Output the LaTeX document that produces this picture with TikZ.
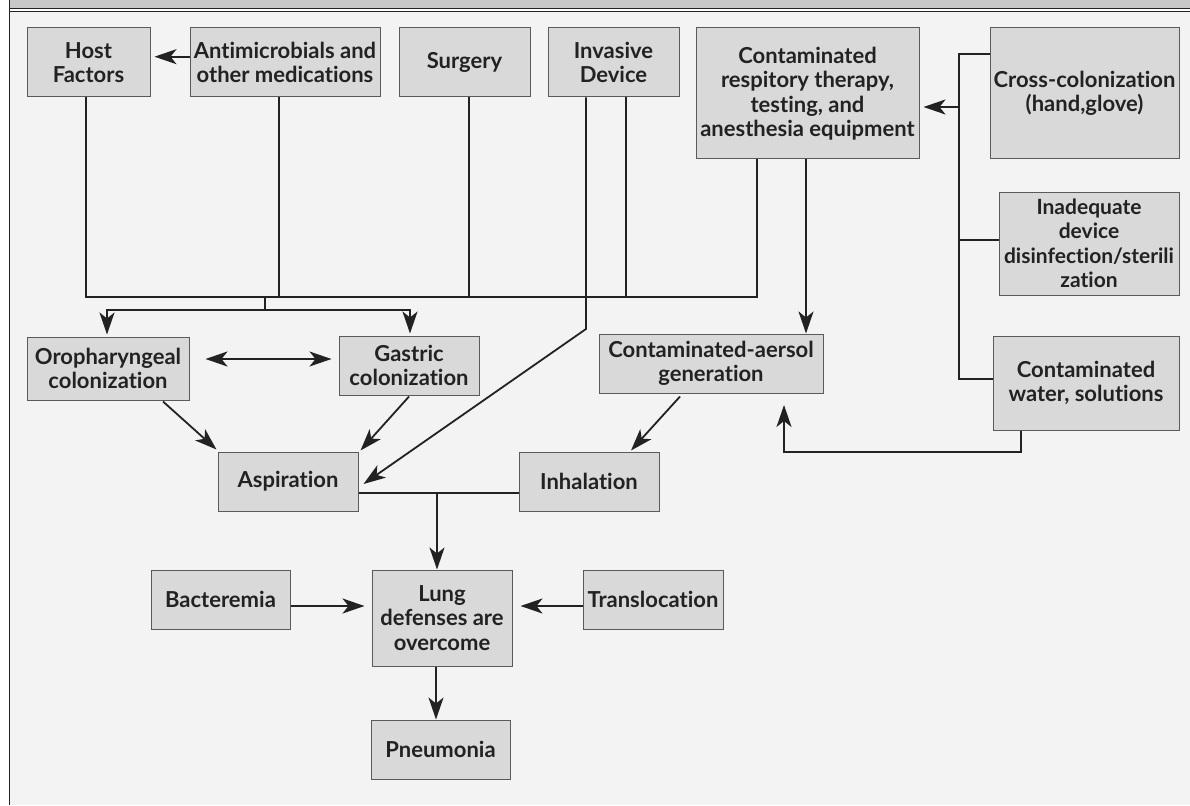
\documentclass[tikz,border=0pt]{standalone}
\usepackage{fontspec}
\setmainfont{Lato}[Ligatures=NoCommon]
\usetikzlibrary{arrows.meta,calc}
\definecolor{panel}{HTML}{F3F3F3}
\definecolor{boxfill}{HTML}{D9D9D9}
\definecolor{boxline}{HTML}{5A5A5A}
\definecolor{ink}{HTML}{222222}
\definecolor{headbar}{HTML}{C8C8C8}

\begin{document}
\begin{tikzpicture}[x=1pt,y=-1pt,
  box/.style={draw=boxline, line width=1pt, fill=boxfill, inner sep=0pt,
    align=center, text=ink, font=\fontsize{22}{24.5}\selectfont\bfseries},
  link/.style={draw=ink, line width=1.8pt},
  arr/.style={link, -{Stealth[length=22pt,width=15pt,inset=6pt]}},
  arrs/.style={link, {Stealth[length=22pt,width=15pt,inset=6pt]}-{Stealth[length=22pt,width=15pt,inset=6pt]}},
  ]
\useasboundingbox (0,0) rectangle (1190,805);
% frame: white margin, panel, header bar and rules
\fill[white] (0,0) rectangle (1190,805);
\fill[panel] (9,11) rectangle (1190,805);
\fill[headbar] (9,0) rectangle (1190,8.5);
\draw[ink, line width=0.9pt] (9,8.9) -- (1190,8.9);
\draw[ink, line width=0.9pt] (9,11) -- (1190,11);
\draw[ink, line width=1.4pt] (9.3,0) -- (9.3,805);

% boxes
\node[box, minimum width=123pt, minimum height=69pt] (host) at (88.5,62.5) {Host\\Factors};
\node[box, minimum width=190pt, minimum height=69pt] (anti) at (285,62.5) {Antimicrobials and\\other medications};
\node[box, minimum width=131pt, minimum height=69pt] (surg) at (464.5,62.5) {Surgery};
\node[box, minimum width=131pt, minimum height=69pt] (inv) at (613.5,62.5) {Invasive\\Device};
\node[box, minimum width=223pt, minimum height=131pt] (cresp) at (807.5,93.5) {Contaminated\\respitory therapy,\\testing, and\\anesthesia equipment};
\node[box, minimum width=189pt, minimum height=131pt] (cross) at (1084.5,93.5) {Cross-colonization\\(hand,glove)\\[-20pt]};
\node[box, minimum width=180pt, minimum height=103pt, font=\fontsize{21}{24.5}\selectfont\bfseries] (inad) at (1089,243.5) {Inadequate\\device\\disinfection/sterili\\zation};
\node[box, minimum width=186pt, minimum height=94pt] (water) at (1086,383) {Contaminated\\water, solutions};
\node[box, minimum width=162pt, minimum height=63pt] (oro) at (108,368.5) {Oropharyngeal\\colonization};
\node[box, minimum width=140pt, minimum height=59pt] (gas) at (409,365.5) {Gastric\\colonization};
\node[box, minimum width=140pt, minimum height=59pt] (asp) at (288,481.5) {Aspiration};
\node[box, minimum width=224pt, minimum height=59pt] (aer) at (711,363.5) {Contaminated-aersol\\generation};
\node[box, minimum width=140pt, minimum height=59pt] (inh) at (589,481.5) {Inhalation};
\node[box, minimum width=139pt, minimum height=59pt] (bac) at (220.5,599.5) {Bacteremia};
\node[box, minimum width=140pt, minimum height=96pt] (lung) at (442,618) {Lung\\defenses are\\overcome};
\node[box, minimum width=140pt, minimum height=59pt] (trans) at (653,599.5) {Translocation};
\node[box, minimum width=139pt, minimum height=59pt] (pneu) at (440.5,749.5) {Pneumonia};

% collecting bus from the top row
\coordinate (busL) at (86,297);
\coordinate (busR) at (757,297);
\draw[link] ($(host.south)+(-2.5,0)$) -- (busL) -- (busR) -- ($(cresp.south)+(-50.5,0)$);
\draw[link] ($(anti.south)+(-6,0)$) coordinate (a1) -- (a1 |- busL);
\draw[link] ($(surg.south)+(4.5,0)$) coordinate (s1) -- (s1 |- busL);
\draw[link] ($(inv.south)+(12.5,0)$) coordinate (i1) -- (i1 |- busL);

% split to the two colonization boxes
\coordinate (jn) at (265,297);
\coordinate (split) at (265,310);
\draw[link] (jn) -- (split);
\draw[arr] (split) -| ($(oro.north)+(-1,-2)$);
\draw[arr] (split) -| ($(gas.north)+(1,-2)$);

% invasive device straight to aspiration
\coordinate (bend) at (586,329);
\draw[arr] ($(inv.south)+(-27.5,0)$) -- (bend) -- ($(asp.east)+(5,2.5)$);

\draw[arr, shorten >=4pt] ($(anti.west)+(0,-5.8)$) coordinate (m1) -- (m1 -| host.east);
\draw[arrs] ($(oro.east)+(16,-9.5)$) -- ($(gas.west)+(-7,-6.5)$);
\draw[arr] ($(oro.south)+(55,1)$) -- ($(asp.north west)+(-1,-2)$);
\draw[arr] ($(gas.south)+(0,1)$) -- ($(asp.north east)+(2,-1)$);

% aspiration and inhalation join towards the lungs
\draw[link] ($(asp.east)+(0,11.5)$) -- ($(inh.west)+(0,11.5)$);
\coordinate (mid) at (437,493);
\draw[arr] (mid) -- (mid |- lung.north);
\draw[arr] ($(aer.south)+(-31,3)$) -- ($(inh.north)+(42,-1)$);
\draw[arr] ($(cresp.south)+(-1.5,0)$) coordinate (c1) -- (c1 |- aer.north);

% equipment sources bracket
\coordinate (bkTop) at (959,54);
\coordinate (bkBot) at (959,379);
\coordinate (bkArr) at (959,107);
\draw[link] (bkTop -| cross.west) -- (bkTop) -- (bkBot) -- (bkBot -| water.west);
\draw[link] ($(inad.west)+(0,-3.5)$) coordinate (d1) -- (d1 -| bkTop);
\draw[arr, shorten >=4pt] (bkArr) -- (bkArr -| cresp.east);

% water back to aerosol generation
\coordinate (wr) at (784,405);
\coordinate (wc) at (784,452);
\draw[arr] ($(water.south)+(-65,0)$) |- (wc) -- (wr);

% lung inputs and outcome
\draw[arr, shorten >=7pt] ($(bac.east)+(0,6.5)$) coordinate (b1) -- (b1 -| lung.west);
\draw[arr, shorten >=8pt] ($(trans.west)+(0,6.5)$) coordinate (t1) -- (t1 -| lung.east);
\draw[arr] ($(lung.south)+(-6,0)$) coordinate (l1) -- (l1 |- pneu.north);
\end{tikzpicture}
\end{document}
